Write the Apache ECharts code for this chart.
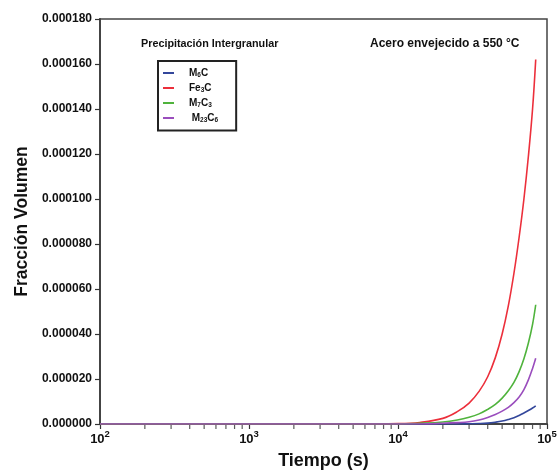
<!DOCTYPE html>
<html><head><meta charset="utf-8">
<script src="https://cdn.jsdelivr.net/npm/echarts@6/dist/echarts.min.js"></script>
<style>html,body{margin:0;padding:0;background:#fff}#c{width:558px;height:470px}</style>
</head><body><div id="c"></div>
<script>
// ---- data ----
var times = [100, 1000, 5000, 10000, 14000, 20000, 25000, 30000, 35000, 40000, 45000, 50000, 55000, 60000, 65000, 70000, 75000, 80000, 84000];
var seriesNames = ['M6C', 'Fe3C', 'M7C3', 'M23C6'];
var seriesLabels = ['{b|M}{s|6}{b|C}', '{b|Fe}{s|3}{b|C}', '{b|M}{s|7}{b|C}{s|3}', '{b| M}{s|23}{b|C}{s|6}'];
var m6c   = [0, 0, 0, 0, 0, 0, 0, 0.0000001, 0.0000002, 0.0000004, 0.0000008, 0.0000013, 0.0000020, 0.0000028, 0.0000038, 0.0000049, 0.0000060, 0.0000071, 0.0000081];
var fe3c  = [0, 0, 0, 0.00000015, 0.0000007, 0.0000025, 0.0000055, 0.0000093, 0.0000145, 0.000021, 0.0000295, 0.000040, 0.0000525, 0.000067, 0.000083, 0.000100, 0.000119, 0.000140, 0.000162];
var m7c3  = [0, 0, 0, 0, 0.0000003, 0.0000009, 0.0000018, 0.0000030, 0.0000045, 0.0000065, 0.0000087, 0.0000115, 0.0000148, 0.0000185, 0.0000233, 0.0000290, 0.0000360, 0.0000443, 0.0000530];
var m23c6 = [0, 0, 0, 0, 0, 0.0000003, 0.0000006, 0.0000010, 0.0000018, 0.0000029, 0.0000042, 0.0000057, 0.0000074, 0.0000095, 0.0000120, 0.0000153, 0.0000196, 0.0000247, 0.0000292];
var colors = ['#33479b', '#ec2f3b', '#4fb33c', '#9a4dbd'];
var minorTickTimes = [200,300,400,500,600,700,800,900,2000,3000,4000,5000,6000,7000,8000,9000,20000,30000,40000,50000,60000,70000,80000,90000];

var allVals = [m6c, fe3c, m7c3, m23c6];
function pairs(v){ return times.map(function(t,i){ return [t, v[i]]; }); }

var FONT = 'Liberation Sans, Arial, sans-serif';
var chart = echarts.init(document.getElementById('c'));
var series = seriesNames.map(function(n, i){
  return { name: n, type: 'line', data: pairs(allVals[i]), smooth: 0.4, showSymbol: false,
    lineStyle: { color: colors[i], width: 1.6 }, itemStyle: { color: colors[i] }, z: 3 };
});
series.push({
  name: 'minorTicks', type: 'scatter', data: minorTickTimes.map(function(t){ return [t, 0]; }),
  symbol: 'rect', symbolSize: [1.2, 4], symbolOffset: [0, 3], clip: false, silent: true,
  itemStyle: { color: '#333' }, z: 1
});

chart.setOption({
  animation: false,
  textStyle: { fontFamily: FONT },
  grid: { left: 100, right: 11, top: 19, bottom: 46, show: true, borderColor: '#444', borderWidth: 1.5,
          containLabel: false, outerBoundsMode: 'none' },
  title: [
    { text: 'Precipitación Intergranular', left: 136, top: 34, textStyle: { fontSize: 10.8, fontWeight: 'bold', color: '#111', fontFamily: FONT } },
    { text: 'Acero envejecido a 550 °C', left: 365, top: 33, textStyle: { fontSize: 12, fontWeight: 'bold', color: '#111', fontFamily: FONT } }
  ],
  legend: {
    data: seriesNames, orient: 'vertical', left: 158, top: 61,
    padding: [7, 18, 7, 5], itemGap: 4.5, itemWidth: 11, itemHeight: 2,
    icon: 'rect', borderColor: '#222', borderWidth: 2, backgroundColor: '#fff',
    formatter: function(name){ return seriesLabels[seriesNames.indexOf(name)]; },
    textStyle: { padding: [0, 0, 0, 10],
      rich: { b: { fontSize: 10, fontWeight: 'bold', color: '#111', fontFamily: FONT },
              s: { fontSize: 6.5, fontWeight: 'bold', color: '#111', verticalAlign: 'bottom', padding: [4, 0, 0, 0], fontFamily: FONT } } }
  },
  xAxis: {
    type: 'log', logBase: 10, min: 100, max: 100000,
    name: 'Tiempo (s)', nameLocation: 'middle', nameGap: 28,
    nameTextStyle: { fontSize: 18, fontWeight: 'bold', color: '#111', fontFamily: FONT },
    axisLine: { lineStyle: { color: '#444', width: 2 } },
    axisTick: { show: true, length: 5, inside: false, lineStyle: { color: '#333', width: 1.2 } },
    splitLine: { show: false },
    axisLabel: { margin: 5, color: '#111',
      formatter: function(v){ var e = Math.round(Math.log10(v)); return '{b|10}{p|' + e + '}'; },
      rich: { b: { fontSize: 13, fontWeight: 'bold', color: '#111', fontFamily: FONT, padding: [4, 0, 0, 0] },
              p: { fontSize: 9.5, fontWeight: 'bold', color: '#111', fontFamily: FONT, verticalAlign: 'top', padding: [0, 0, 6, 0] } } }
  },
  yAxis: {
    type: 'value', min: 0, max: 0.00018, interval: 0.00002,
    name: 'Fracción Volumen', nameLocation: 'middle', nameGap: 66, nameRotate: 90,
    nameTextStyle: { fontSize: 17.5, fontWeight: 'bold', color: '#111', fontFamily: FONT },
    axisLine: { show: true, lineStyle: { color: '#444', width: 2 } },
    axisTick: { show: true, length: 5, lineStyle: { color: '#333', width: 1.2 } },
    splitLine: { show: false },
    axisLabel: { margin: 8, color: '#111', fontSize: 12, fontWeight: 'bold',
      formatter: function(v){ return v.toFixed(6); } }
  },
  series: series
});
</script></body></html>
